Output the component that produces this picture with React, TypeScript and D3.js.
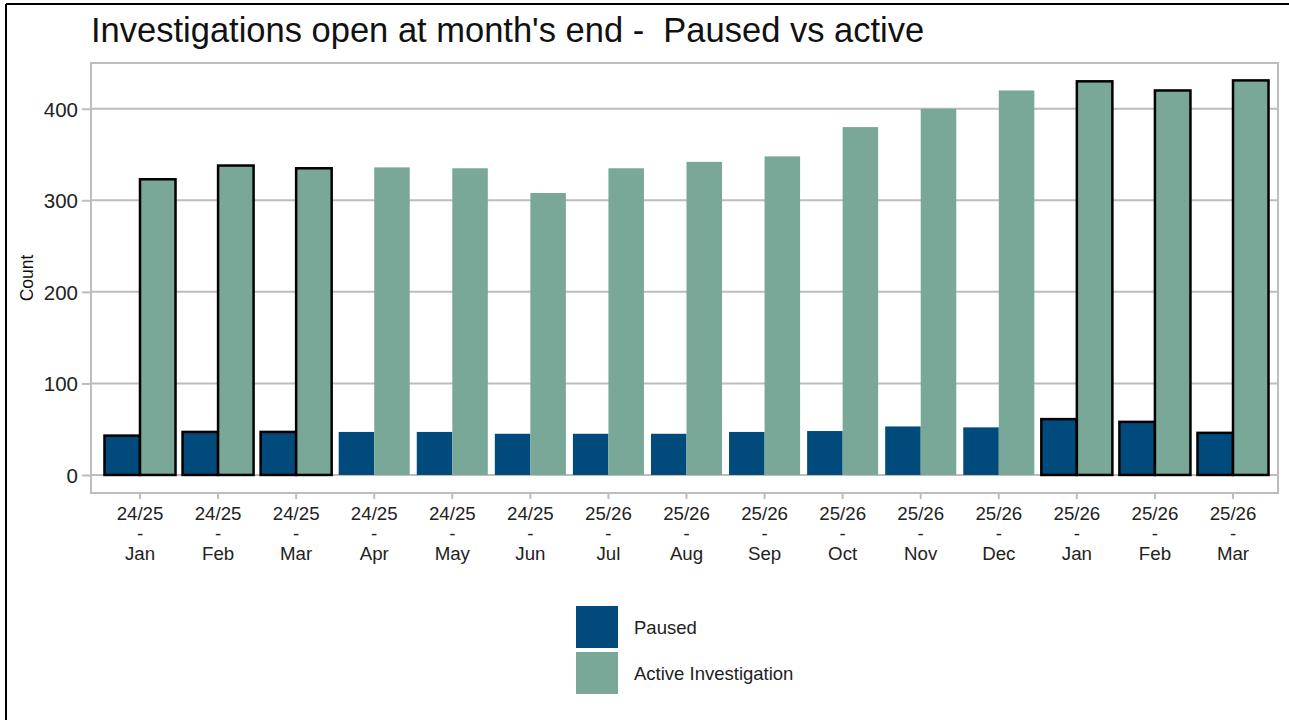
import React, { useEffect, useRef } from 'react';
import * as d3 from 'd3';

const years = ['24/25', '24/25', '24/25', '24/25', '24/25', '24/25', '25/26', '25/26', '25/26', '25/26', '25/26', '25/26', '25/26', '25/26', '25/26'];
const months = ['Jan', 'Feb', 'Mar', 'Apr', 'May', 'Jun', 'Jul', 'Aug', 'Sep', 'Oct', 'Nov', 'Dec', 'Jan', 'Feb', 'Mar'];
const paused = [43, 47, 47, 47, 47, 45, 45, 45, 47, 48, 53, 52, 61, 58, 46];
const active = [323, 338, 335, 336, 335, 308, 335, 342, 348, 380, 400, 420, 430, 420, 431];
// groups drawn with a black outline
const outlined = [true, true, true, false, false, false, false, false, false, false, false, false, true, true, true];
const yTicks = [0, 100, 200, 300, 400];
const seriesNames = ['Paused', 'Active Investigation'];
const colors = ['#004b7c', '#79a898'];

export default function App() {
    const ref = useRef<SVGSVGElement>(null);

    useEffect(() => {
        if (!ref.current) return;
        const svg = d3.select(ref.current);
        svg.selectAll('*').remove();

        const width = 1289;
        const height = 720;
        const left = 91, right = 1278, top = 63, bottom = 493;
        const font = 'Liberation Sans, Arial, sans-serif';

        // outer frame
        svg.append('line').attr('x1', 6).attr('x2', width).attr('y1', 4).attr('y2', 4).attr('stroke', '#000').attr('stroke-width', 2);
        svg.append('line').attr('x1', 6).attr('x2', 6).attr('y1', 4).attr('y2', height).attr('stroke', '#000').attr('stroke-width', 2);

        const ids = months.map((m, i) => String(i));
        const step = (1233 - 140) / (ids.length - 1);
        const x = d3.scaleBand()
            .domain(ids)
            .range([140 - step / 2, 1233 + step / 2])
            .paddingInner(0.09)
            .paddingOuter(0.045);
        const inner = d3.scaleBand().domain(['0', '1']).range([0, x.bandwidth()]);

        const y = d3.scaleLinear().domain([-19.7, 450]).range([bottom, top]);

        // gridlines
        svg.append('g').selectAll('line').data(yTicks).enter().append('line')
            .attr('x1', left).attr('x2', right)
            .attr('y1', d => y(d)).attr('y2', d => y(d))
            .attr('stroke', '#bdbdbd').attr('stroke-width', 2);

        // panel border
        svg.append('rect')
            .attr('x', left).attr('y', top).attr('width', right - left).attr('height', bottom - top)
            .attr('fill', 'none').attr('stroke', '#bdbdbd').attr('stroke-width', 2);

        const data = ids.map((id, i) => ({ id, vals: [paused[i], active[i]], outline: outlined[i] }));

        const groups = svg.append('g').selectAll('g').data(data).enter().append('g')
            .attr('transform', d => `translate(${x(d.id)},0)`);

        groups.selectAll('rect')
            .data(d => d.vals.map((v, k) => ({ v, k, outline: d.outline })))
            .enter().append('rect')
            .attr('x', d => inner(String(d.k))!)
            .attr('y', d => y(d.v))
            .attr('width', inner.bandwidth())
            .attr('height', d => y(0) - y(d.v))
            .attr('fill', d => colors[d.k])
            .attr('stroke', d => d.outline ? '#000' : 'none')
            .attr('stroke-width', 2.5);

        // y axis
        const yAxis = svg.append('g').attr('transform', `translate(${left},0)`)
            .call(d3.axisLeft(y).tickValues(yTicks).tickSize(9).tickPadding(4));
        yAxis.select('.domain').remove();
        yAxis.selectAll('line').attr('stroke', '#bdbdbd').attr('stroke-width', 2);
        yAxis.selectAll('text').attr('font-family', font).attr('font-size', 20.5).attr('fill', '#222').attr('dy', '0.36em');

        // x axis
        const xAxis = svg.append('g').attr('transform', `translate(0,${bottom})`)
            .call(d3.axisBottom(x).tickSize(6).tickFormat(() => ''));
        xAxis.select('.domain').remove();
        xAxis.selectAll('line').attr('stroke', '#bdbdbd').attr('stroke-width', 2);
        xAxis.selectAll('.tick text').remove();
        xAxis.selectAll('.tick').each(function (_, i) {
            const t = d3.select(this).append('text')
                .attr('font-family', font).attr('font-size', 18.7).attr('fill', '#222')
                .attr('text-anchor', 'middle');
            [years[i], '-', months[i]].forEach((s, j) => {
                t.append('tspan').attr('x', 0).attr('y', 27 + j * 20).text(s);
            });
        });

        // y title
        svg.append('text')
            .attr('transform', `translate(33,${(top + bottom) / 2}) rotate(-90)`)
            .attr('text-anchor', 'middle')
            .attr('font-family', font).attr('font-size', 17.5).attr('fill', '#111')
            .text('Count');

        // title
        svg.append('text')
            .attr('x', 91).attr('y', 42)
            .attr('font-family', font).attr('font-size', 34.5).attr('fill', '#111')
            .attr('xml:space', 'preserve')
            .style('white-space', 'pre')
            .text("Investigations open at month's end -  Paused vs active");

        // legend
        const legend = svg.append('g').attr('transform', 'translate(576,606)');
        seriesNames.forEach((name, i) => {
            legend.append('rect').attr('x', 0).attr('y', i * 46).attr('width', 42).attr('height', 42).attr('fill', colors[i]);
            legend.append('text').attr('x', 58).attr('y', i * 46 + 28)
                .attr('font-family', font).attr('font-size', 18.5).attr('fill', '#222')
                .text(name);
        });
    }, []);

    return <svg ref={ref} width={1289} height={720} style={{ position: 'absolute', left: 0, top: 0, background: '#fff' }} />;
}
